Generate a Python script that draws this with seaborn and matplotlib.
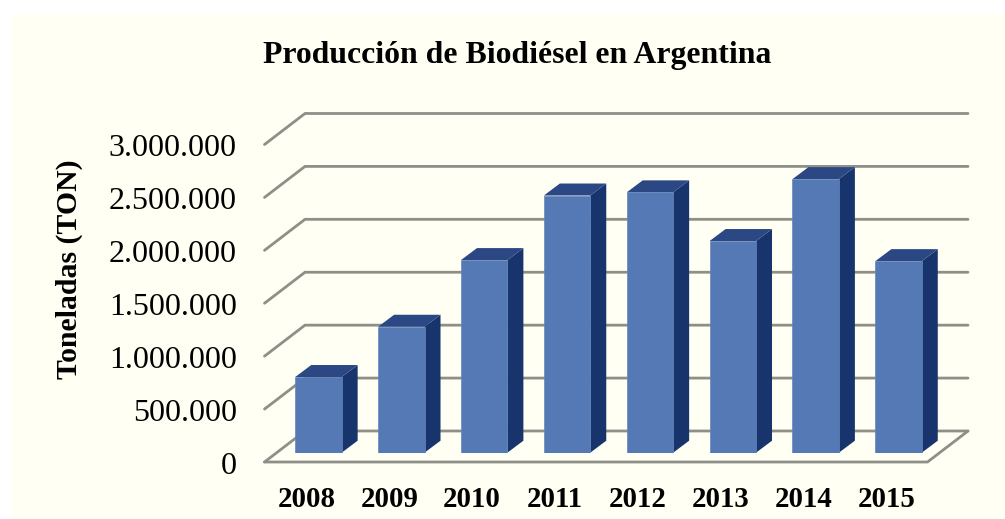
import matplotlib
matplotlib.use("Agg")
import matplotlib.pyplot as plt
from matplotlib.patches import Rectangle
from matplotlib.transforms import ScaledTranslation
import pandas as pd
import seaborn as sns

years = ["2008", "2009", "2010", "2011", "2012", "2013", "2014", "2015"]
production = [715000, 1190000, 1820000, 2430000, 2460000, 2000000, 2585000, 1810000]
y_ticks = [0, 500000, 1000000, 1500000, 2000000, 2500000, 3000000]
y_tick_labels = ["0", "500.000", "1.000.000", "1.500.000", "2.000.000", "2.500.000", "3.000.000"]
title = "Producción de Biodiésel en Argentina"
y_title = "Toneladas (TON)"

sns.set_theme(style="white")
plt.rcParams["font.family"] = ["Liberation Serif", "DejaVu Serif"]

W, H = 1005, 519
CREAM, FRONT, TOP, SIDE, GRID = "#FFFFF3", "#5479B4", "#2B4884", "#17346C", "#8F8F8A"
fig = plt.figure(figsize=(W / 100, H / 100), dpi=100, facecolor="white")
fig.patches.append(Rectangle((12 / W, 0), 1 - 12 / W, 1 - 14 / H, transform=fig.transFigure,
                             facecolor=CREAM, edgecolor="none", zorder=-10))

ax_left, ax_right, ax_bottom, ax_top = 277, 940, 452.7, 135.2
ax = fig.add_axes([ax_left / W, 1 - ax_bottom / H, (ax_right - ax_left) / W, (ax_bottom - ax_top) / H])
ax.patch.set_alpha(0)

df = pd.DataFrame({"year": years, "production": production})
sns.barplot(data=df, x="year", y="production", color=FRONT, saturation=1, width=0.56, gap=0,
            errorbar=None, ax=ax, zorder=5, edgecolor="#6585BC", linewidth=0.5)

ax.set_xlim(-0.5, 7.5)
ax.set_ylim(0, 3000000)

px_x = 8 / (ax_right - ax_left)
px_y = 500000 / 52.9

# bar depth faces
half = 0.56 / 2
dx, dy = 16 * px_x, 12 * px_y
for i, v in enumerate(production):
    ax.fill([i + half, i + half + dx, i + half + dx, i + half], [0, dy, v + dy, v],
            color=SIDE, lw=0, zorder=4, clip_on=False)
    ax.fill([i - half, i + half, i + half + dx, i - half + dx], [v, v, v + dy, v + dy],
            color=TOP, lw=0, zorder=4, clip_on=False)

# walls and floor
bx, by = 28 * px_x, 21.7 * px_y
fx, fy = -12.5 * px_x, -9.3 * px_y
x0, x1 = -0.5, 7.5
for t in y_ticks:
    ax.plot([x0 + fx, x0 + bx, x1 + bx], [t + fy, t + by, t + by], color=GRID, lw=2.0,
            zorder=1, clip_on=False, solid_joinstyle="miter")
ax.plot([x0 + fx, x1 + fx, x1 + bx], [fy, fy, by], color=GRID, lw=2.0, zorder=1, clip_on=False,
        solid_joinstyle="miter")

sns.despine(ax=ax, left=True, bottom=True)
ax.set_xlabel("")
ax.set_yticks(y_ticks)
ax.set_yticklabels(y_tick_labels)
ax.tick_params(axis="y", length=0, pad=29, labelsize=23, labelcolor="black")
ax.tick_params(axis="x", length=0, pad=24.3, labelsize=20.8, labelcolor="black")
for lab in ax.get_xticklabels():
    lab.set_fontweight("bold")
    lab.set_transform(lab.get_transform() + ScaledTranslation(-12 / 100, 0, fig.dpi_scale_trans))
for lab in ax.get_yticklabels():
    lab.set_transform(lab.get_transform() + ScaledTranslation(0, -10 / 100, fig.dpi_scale_trans))

ax.set_ylabel(y_title, fontsize=21.4, fontweight="bold", color="black")
ax.yaxis.set_label_coords(83 / W, 1 - 269 / H, transform=fig.transFigure)
fig.text(517.5 / W, 1 - 56 / H, title, ha="center", va="center", fontsize=22.9, fontweight="bold", color="black")

fig.savefig("out.png", dpi=100, facecolor="white")
